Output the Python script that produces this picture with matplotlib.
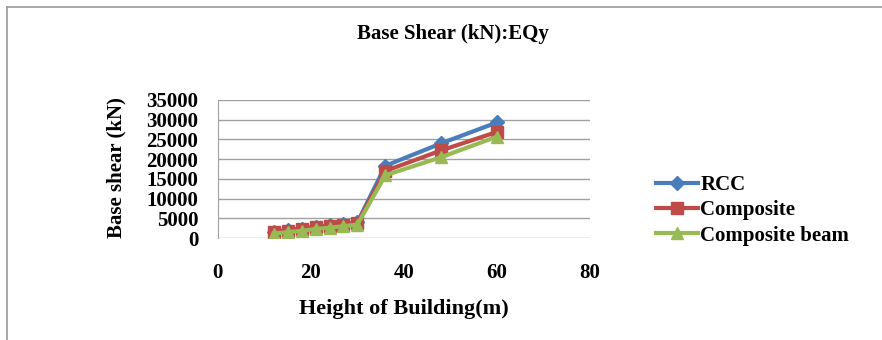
import matplotlib
matplotlib.use("Agg")

import matplotlib.pyplot as plt
from matplotlib.lines import Line2D

plt.rcParams["font.family"] = ["Liberation Serif", "DejaVu Serif"]
plt.rcParams["font.weight"] = "bold"

height = [12, 15, 18, 21, 24, 27, 30, 36, 48, 60]
rcc = [1600, 2000, 2400, 2800, 3200, 3600, 4000, 18300, 24000, 29300]
composite = [1500, 1900, 2300, 2700, 3000, 3400, 3800, 17000, 22200, 26900]
composite_beam = [1100, 1500, 1800, 2300, 2600, 3000, 3400, 15900, 20500, 25700]

x_ticks = [0, 20, 40, 60, 80]
y_ticks = [0, 5000, 10000, 15000, 20000, 25000, 30000, 35000]

fig = plt.figure(figsize=(8.82, 3.4), dpi=100)
# chart border (left and top edges visible)
fig.add_artist(Line2D([0.008, 0.008], [0.0, 0.979], transform=fig.transFigure,
                      color="#999999", linewidth=1.2))
fig.add_artist(Line2D([0.008, 1.0], [0.979, 0.979], transform=fig.transFigure,
                      color="#999999", linewidth=1.2))

ax = fig.add_axes([0.247, 0.30, 0.422, 0.406])
ax.plot(height, rcc, color="#4A7EBB", linewidth=3, marker="D", markersize=7, label="RCC")
ax.plot(height, composite, color="#BE4B48", linewidth=3, marker="s", markersize=8, label="Composite")
ax.plot(height, composite_beam, color="#98B954", linewidth=3, marker="^", markersize=9,
        label="Composite beam")

ax.set_xlim(0, 80)
ax.set_ylim(0, 35000)
ax.set_xticks(x_ticks)
ax.set_yticks(y_ticks)
ax.tick_params(length=0, labelsize=15)
ax.tick_params(axis="x", pad=18)
ax.tick_params(axis="y", pad=14)
ax.grid(axis="y", color="#A0A0A0", linewidth=1)
ax.set_axisbelow(True)
for side in ["top", "right", "bottom"]:
    ax.spines[side].set_visible(False)
ax.spines["left"].set_color("#A0A0A0")

fig.text(0.513, 0.9, "Base Shear (kN):EQy", fontsize=15, fontweight="bold",
         ha="center", va="center")
fig.text(0.458, 0.09, "Height of Building(m)", fontsize=16, fontweight="bold",
         ha="center", va="center")
fig.text(0.132, 0.506, "Base shear (kN)", fontsize=15, fontweight="bold",
         ha="center", va="center", rotation=90)

ax.legend(loc="center left", bbox_to_anchor=(1.128, 0.2), frameon=False, fontsize=15,
          handlelength=2.0, handletextpad=0.1, labelspacing=0.25)

plt.savefig("out.png", dpi=100)
plt.close()
